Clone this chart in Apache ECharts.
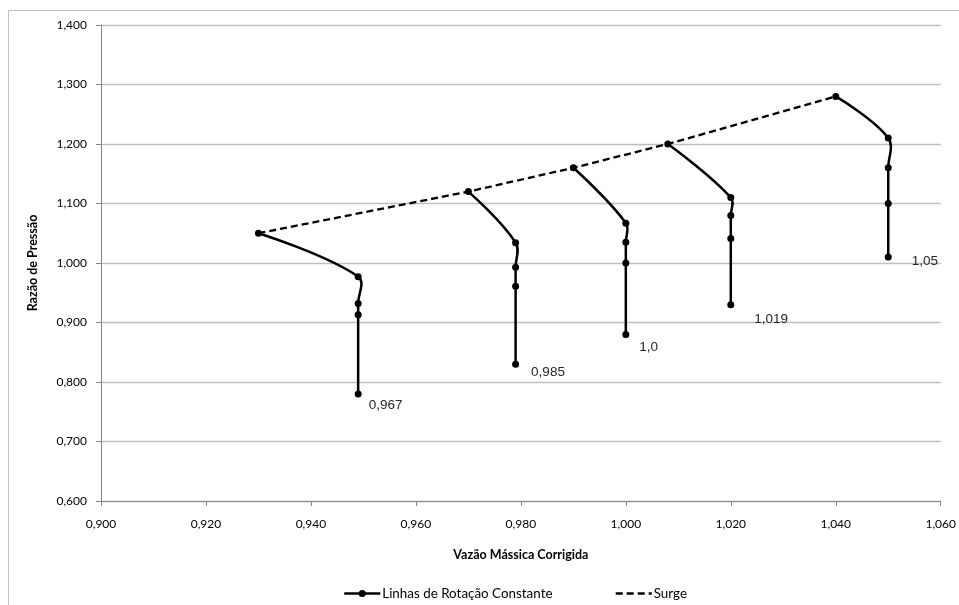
<!DOCTYPE html>
<html>
<head>
<meta charset="utf-8">
<script src="https://cdn.jsdelivr.net/npm/echarts@6/dist/echarts.min.js"></script>
<style>
  html, body { margin: 0; padding: 0; background: #fff; }
  #chart { width: 959px; height: 605px; }
</style>
</head>
<body>
<div id="chart"></div>
<script>
// Constant-speed lines of the compressor map (corrected mass flow vs pressure ratio)
const speeds = ['0,967', '0,985', '1,0', '1,019', '1,05'];

const flow0967 = [0.930, 0.949, 0.949, 0.949, 0.949];
const ratio0967 = [1.050, 0.977, 0.932, 0.913, 0.780];

const flow0985 = [0.970, 0.979, 0.979, 0.979, 0.979];
const ratio0985 = [1.120, 1.034, 0.993, 0.961, 0.830];

const flow1000 = [0.990, 1.000, 1.000, 1.000, 1.000];
const ratio1000 = [1.160, 1.067, 1.035, 1.000, 0.880];

const flow1019 = [1.008, 1.020, 1.020, 1.020, 1.020];
const ratio1019 = [1.200, 1.110, 1.080, 1.041, 0.930];

const flow1050 = [1.040, 1.050, 1.050, 1.050, 1.050];
const ratio1050 = [1.280, 1.210, 1.160, 1.100, 1.010];

// Surge line through the first point of each speed line
const surgeFlow = [0.930, 0.970, 0.990, 1.008, 1.040];
const surgeRatio = [1.050, 1.120, 1.160, 1.200, 1.280];

// Axis ticks
const xMin = 0.900, xMax = 1.060, xStep = 0.020;
const yMin = 0.600, yMax = 1.400, yStep = 0.100;

// Offsets of the speed labels next to the last point of each line
const labelOffsets = [[2, 11], [7, 8], [5, 13], [15, 15], [15, 4]];

const speedFlows = [flow0967, flow0985, flow1000, flow1019, flow1050];
const speedRatios = [ratio0967, ratio0985, ratio1000, ratio1019, ratio1050];

const axisFont = 'Lato, "Open Sans", sans-serif';
const fmt = v => v.toFixed(3).replace('.', ',');
const SMOOTH = 0.38;
const LEGEND_NAME = 'Linhas de Rotação Constante';

// Markers and speed labels of each constant-speed line (curve drawn by the custom series)
const speedSeries = speeds.map((name, i) => {
  const xs = speedFlows[i], ys = speedRatios[i];
  const data = xs.map((x, j) => {
    const item = { value: [x, ys[j]] };
    if (j === xs.length - 1) {
      item.label = {
        show: true,
        position: 'right',
        offset: labelOffsets[i],
        formatter: name,
        fontFamily: '"Liberation Sans", Arial, sans-serif',
        fontSize: 13.5,
        color: '#262626'
      };
    }
    return item;
  });
  return {
    name: LEGEND_NAME,
    type: 'line',
    data: data,
    symbol: 'circle',
    symbolSize: 7,
    lineStyle: { color: '#000', width: 2.5, opacity: 0 },
    itemStyle: { color: '#000' },
    z: 4,
    animation: false
  };
});

// Smoothed curve through the points of one speed line (cubic Bezier segments)
function renderSpeedCurve(params, api) {
  const k = api.value(2);
  const xs = speedFlows[k], ys = speedRatios[k];
  const pts = xs.map((x, j) => api.coord([x, ys[j]]));
  const n = pts.length;
  const cpIn = [], cpOut = [];
  for (let j = 0; j < n; j++) {
    const p = pts[j];
    if (j === 0 || j === n - 1) { cpIn[j] = p; cpOut[j] = p; continue; }
    const prev = pts[j - 1], next = pts[j + 1];
    const vx = next[0] - prev[0], vy = next[1] - prev[1];
    const d0 = Math.hypot(p[0] - prev[0], p[1] - prev[1]);
    const d1 = Math.hypot(next[0] - p[0], next[1] - p[1]);
    const r = d1 / (d0 + d1);
    cpIn[j] = [p[0] - vx * SMOOTH * (1 - r), p[1] - vy * SMOOTH * (1 - r)];
    cpOut[j] = [p[0] + vx * SMOOTH * r, p[1] + vy * SMOOTH * r];
  }
  const children = [];
  for (let j = 0; j < n - 1; j++) {
    children.push({
      type: 'bezierCurve',
      shape: {
        x1: pts[j][0], y1: pts[j][1],
        x2: pts[j + 1][0], y2: pts[j + 1][1],
        cpx1: cpOut[j][0], cpy1: cpOut[j][1],
        cpx2: cpIn[j + 1][0], cpy2: cpIn[j + 1][1]
      },
      style: { stroke: '#000', lineWidth: 2.5, fill: null, lineCap: 'round', lineJoin: 'round' }
    });
  }
  return { type: 'group', children: children };
}

const curveSeries = {
  type: 'custom',
  coordinateSystem: 'cartesian2d',
  data: speeds.map((s, i) => [speedFlows[i][0], speedRatios[i][0], i]),
  encode: { x: 0, y: 1 },
  renderItem: renderSpeedCurve,
  silent: true,
  clip: false,
  z: 3,
  animation: false
};

const surgeSeries = {
  name: 'Surge',
  type: 'line',
  data: surgeFlow.map((x, j) => [x, surgeRatio[j]]),
  symbol: 'none',
  lineStyle: { color: '#000', width: 2.3, type: [7, 4] },
  itemStyle: { color: '#000' },
  z: 2,
  animation: false
};

const chart = echarts.init(document.getElementById('chart'), null, { renderer: 'canvas' });
chart.setOption({
  backgroundColor: '#fff',
  animation: false,
  graphic: [{
    type: 'rect',
    shape: { x: 8.5, y: 10.5, width: 1000, height: 700 },
    style: { fill: 'none', stroke: '#BFBFBF', lineWidth: 1 },
    silent: true
  }],
  grid: { left: 101, right: 16, top: 25, bottom: 104, containLabel: false },
  xAxis: {
    type: 'value',
    min: xMin, max: xMax, interval: xStep,
    name: 'Vazão Mássica Corrigida',
    nameLocation: 'middle',
    nameGap: 47,
    nameTextStyle: { fontFamily: axisFont, fontWeight: 'bold', fontSize: 12.5, color: '#000' },
    axisLine: { show: true, onZero: false, lineStyle: { color: '#868686', width: 1 } },
    axisTick: { show: true, length: 5, lineStyle: { color: '#868686' } },
    axisLabel: { formatter: fmt, margin: 17, fontFamily: axisFont, fontSize: 12, color: '#000' },
    splitLine: { show: false }
  },
  yAxis: {
    type: 'value',
    min: yMin, max: yMax, interval: yStep,
    name: 'Razão de Pressão',
    nameLocation: 'middle',
    nameGap: 62,
    nameRotate: 90,
    nameTextStyle: { fontFamily: axisFont, fontWeight: 'bold', fontSize: 12.5, color: '#000' },
    axisLine: { show: true, onZero: false, lineStyle: { color: '#868686', width: 1 } },
    axisTick: { show: true, length: 5, lineStyle: { color: '#868686' } },
    axisLabel: { formatter: fmt, margin: 14, fontFamily: axisFont, fontSize: 12, color: '#000' },
    splitLine: { show: true, lineStyle: { color: '#BEBEBE', width: 1.3 } }
  },
  legend: {
    top: 582,
    left: 338,
    itemWidth: 36,
    itemHeight: 9,
    itemGap: 62,
    textStyle: { fontFamily: axisFont, fontSize: 13.4, color: '#000', padding: [0, 0, 0, -3] },
    lineStyle: { color: '#000', width: 2.5, opacity: 1 },
    data: [
      { name: LEGEND_NAME },
      { name: 'Surge', itemStyle: { color: 'rgba(0,0,0,0)', borderWidth: 0, opacity: 0 } }
    ]
  },
  series: speedSeries.concat([curveSeries, surgeSeries])
});
</script>
</body>
</html>
